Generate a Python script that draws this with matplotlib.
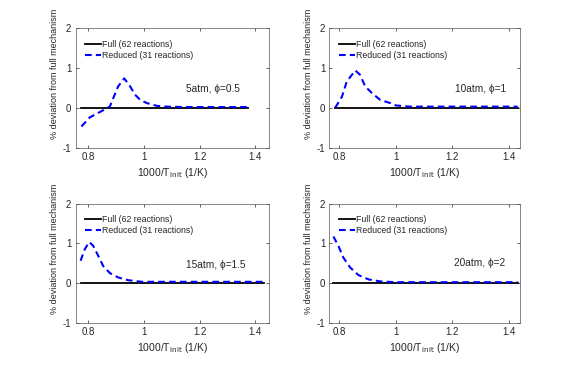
import matplotlib
matplotlib.use("Agg")
import matplotlib.pyplot as plt

plt.rcParams['font.family'] = ['Liberation Sans', 'DejaVu Sans']
plt.rcParams['axes.unicode_minus'] = False

# panel labels
labels = ["5atm, ϕ=0.5", "10atm, ϕ=1", "15atm, ϕ=1.5", "20atm, ϕ=2"]

# full mechanism (zero reference), x range per panel
full_x = [[0.775, 1.375], [0.786, 1.43], [0.772, 1.43], [0.78, 1.43]]
full_y = [0.0, 0.0]

# reduced mechanism deviation curves
red_x1 = [0.775, 0.805, 0.835, 0.877, 0.907, 0.929, 0.95, 0.968, 0.986, 1.01, 1.046, 1.08, 1.15, 1.25, 1.375]
red_y1 = [-0.47, -0.24, -0.13, 0.03, 0.54, 0.74, 0.54, 0.33, 0.20, 0.12, 0.05, 0.03, 0.02, 0.02, 0.02]

red_x2 = [0.786, 0.81, 0.827, 0.857, 0.874, 0.892, 0.916, 0.945, 0.98, 1.0, 1.05, 1.15, 1.25, 1.35, 1.43]
red_y2 = [0.0, 0.28, 0.66, 0.94, 0.83, 0.54, 0.37, 0.20, 0.12, 0.06, 0.03, 0.03, 0.03, 0.03, 0.03]

red_x3 = [0.772, 0.787, 0.803, 0.817, 0.835, 0.853, 0.877, 0.907, 0.943, 0.992, 1.05, 1.15, 1.25, 1.35, 1.43]
red_y3 = [0.56, 0.85, 1.03, 0.94, 0.69, 0.43, 0.25, 0.14, 0.07, 0.03, 0.03, 0.03, 0.03, 0.03, 0.03]

red_x4 = [0.78, 0.797, 0.815, 0.839, 0.868, 0.904, 0.945, 1.0, 1.05, 1.15, 1.25, 1.35, 1.43]
red_y4 = [1.17, 0.94, 0.64, 0.39, 0.20, 0.09, 0.04, 0.02, 0.02, 0.02, 0.02, 0.02, 0.02]

red_x = [red_x1, red_x2, red_x3, red_x4]
red_y = [red_y1, red_y2, red_y3, red_y4]

xlims = [(0.754, 1.449), (0.766, 1.44), (0.754, 1.449), (0.766, 1.44)]
label_pos = [(1.15, 0.48), (1.21, 0.48), (1.15, 0.46), (1.205, 0.5)]

# axes boxes in figure fractions: left, bottom, width, height
boxes = [
    [0.131, 0.599, 0.335, 0.324],
    [0.571, 0.599, 0.331, 0.324],
    [0.131, 0.123, 0.335, 0.324],
    [0.571, 0.123, 0.331, 0.324],
]

txt = '#262626'
fig = plt.figure(figsize=(5.77, 3.68), dpi=100)

for i in range(4):
    ax = fig.add_axes(boxes[i])
    ax.plot(full_x[i], full_y, color='black', lw=1.3, label='Full (62 reactions)')
    ax.plot(red_x[i], red_y[i], color='#0000ff', lw=1.5, ls='--', dashes=(3.2, 2),
            label='Reduced (31 reactions)')
    ax.set_xlim(*xlims[i])
    ax.set_ylim(-1, 2)
    ax.set_xticks([0.8, 1, 1.2, 1.4])
    ax.set_xticklabels(['0.8', '1', '1.2', '1.4'])
    ax.set_yticks([-1, 0, 1, 2])
    ax.tick_params(direction='in', top=True, right=True, length=2.5, width=0.5,
                   labelsize=7, colors=txt, pad=3)
    for s in ax.spines.values():
        s.set_linewidth(0.5)
        s.set_color('#555555')
    ax.set_xlabel('1000/T$_{\\rm init}$ (1/K)', fontsize=7.5, color=txt, labelpad=3)
    ax.set_ylabel('% deviation from full mechanism', fontsize=6.5, color=txt)
    ax.yaxis.set_label_coords(-0.088, 0.62)
    ax.text(label_pos[i][0], label_pos[i][1], labels[i], fontsize=7.3, color=txt,
            ha='left', va='center')
    ax.legend(loc='upper left', bbox_to_anchor=(0.05, 0.905), frameon=False,
              fontsize=6.3, handlelength=1.8, handletextpad=0.15, borderaxespad=0,
              borderpad=0, labelspacing=0.3, labelcolor=txt)

fig.savefig('out.png', dpi=100)
